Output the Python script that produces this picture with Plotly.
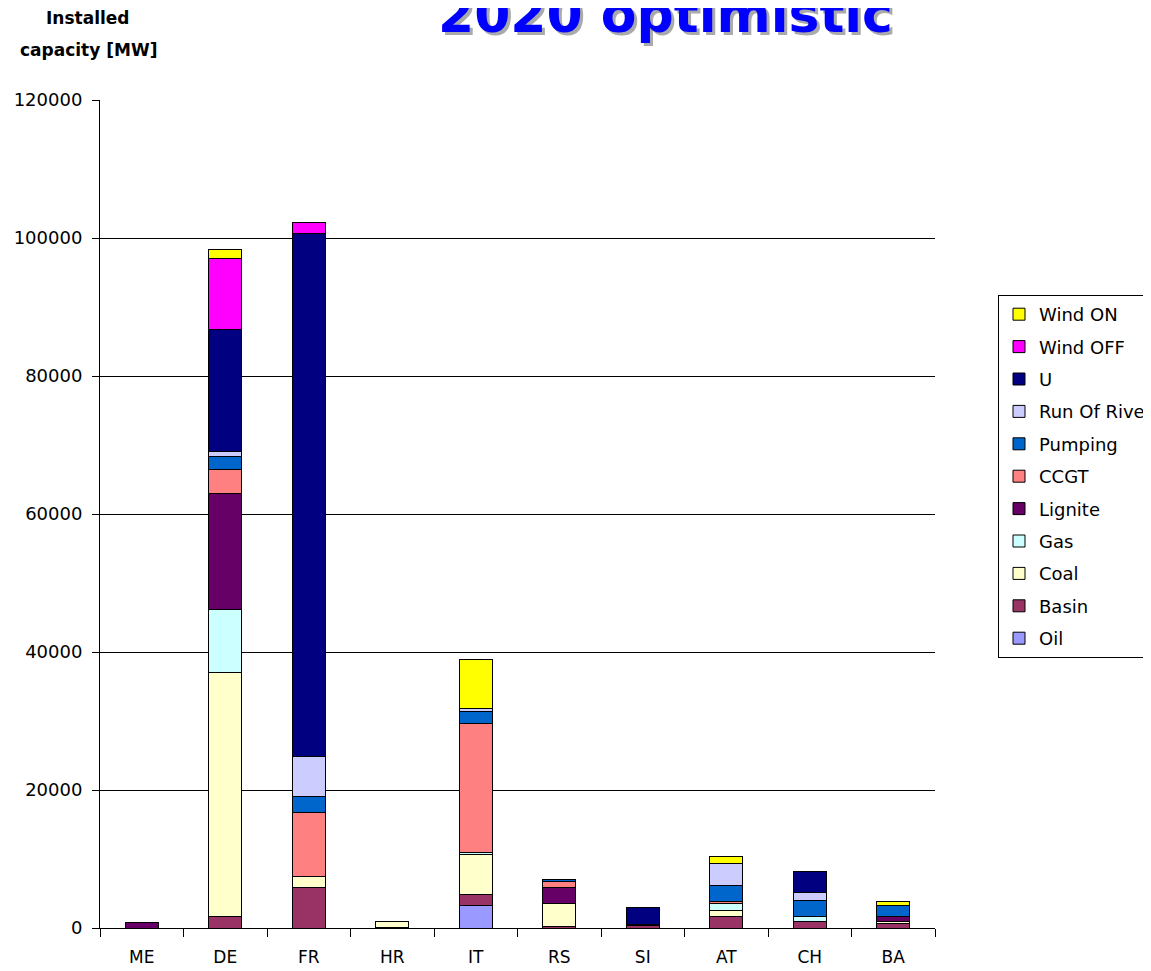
import plotly.graph_objects as go

categories = ["ME", "DE", "FR", "HR", "IT", "RS", "SI", "AT", "CH", "BA"]

oil      = [None, None, None, None, 3300, None, None, None, None, None]
basin    = [None, 1700, 5900, 100, 1500, 200, 300, 1700, 1000, 600]
coal     = [None, 35300, 1600, 800, 5900, 3400, None, 900, None, 300]
gas      = [None, 9100, None, None, 200, None, None, 900, 600, None]
lignite  = [800, 16800, None, None, None, 2200, None, None, None, 700]
ccgt     = [None, 3600, 9300, None, 18800, 1000, None, 400, None, None]
pumping  = [None, 1800, 2200, None, 1750, 300, None, 2300, 2400, 1600]
ror      = [None, 700, 5900, None, 400, None, 200, 3200, 1100, None]
uranium  = [None, 17700, 75800, None, None, None, 2400, None, 3100, None]
wind_off = [None, 10300, 1600, None, None, None, None, None, None, None]
wind_on  = [None, 1300, None, None, 7100, None, None, 900, None, 700]

series = [
    ("Oil", oil, "#9999FF"),
    ("Basin", basin, "#993366"),
    ("Coal", coal, "#FFFFCC"),
    ("Gas", gas, "#CCFFFF"),
    ("Lignite", lignite, "#660066"),
    ("CCGT", ccgt, "#FF8080"),
    ("Pumping", pumping, "#0066CC"),
    ("Run Of River", ror, "#CCCCFF"),
    ("U", uranium, "#000080"),
    ("Wind OFF", wind_off, "#FF00FF"),
    ("Wind ON", wind_on, "#FFFF00"),
]

FONT = "DejaVu Sans"
OFF = 8  # page body margin

L, T = 100 - OFF, 100 - OFF
PW, PH = 835, 828

fig = go.Figure()
for i, (name, vals, col) in enumerate(series):
    fig.add_trace(go.Bar(
        x=categories, y=vals, name=name, legendgroup=name,
        legendrank=100 - i,
        marker=dict(color=col, line=dict(color="black", width=1)),
    ))

fig.update_layout(
    width=1151, height=971,
    barmode="stack", bargap=0.6,
    plot_bgcolor="white", paper_bgcolor="white",
    margin=dict(l=L, r=1151 - L - PW, t=T, b=971 - T - PH, autoexpand=False),
    font=dict(family=FONT, size=16, color="black"),
    showlegend=True,
    legend=dict(
        x=(998 - 100) / PW, y=(928 - 295) / PH, xanchor="left", yanchor="top",
        traceorder="grouped", tracegroupgap=6,
        bordercolor="black", borderwidth=1, bgcolor="white",
        font=dict(family=FONT, size=18, color="black"),
    ),
    xaxis=dict(
        type="category", showline=True, linecolor="black", linewidth=1,
        ticks="outside", tickson="boundaries", ticklen=8, tickcolor="black",
        showgrid=False, tickfont=dict(family=FONT, size=17),
        ticklabelstandoff=14,
    ),
    yaxis=dict(
        range=[0, 120000], dtick=20000, showline=True, linecolor="black",
        linewidth=1, ticks="outside", ticklen=7, tickcolor="black",
        showgrid=True, gridcolor="black", gridwidth=1, zeroline=False,
        tickformat="d", tickfont=dict(family=FONT, size=18),
        ticklabelstandoff=6,
    ),
)

# Title with shadow
title_x = (665 - 100) / PW
for dx, dy, col in [(3, -3, "#AAAAAA"), (0, 0, "#0000FF")]:
    fig.add_annotation(
        text="<b>2020 optimistic</b>", xref="paper", yref="paper",
        x=title_x, y=(928 - 14) / PH, xanchor="center", yanchor="middle",
        xshift=dx, yshift=dy, showarrow=False,
        font=dict(family=FONT, size=52, color=col),
    )

# Y-axis label
fig.add_annotation(text="<b>Installed</b>", xref="paper", yref="paper",
                   x=(88 - 100) / PW, y=(928 - 18) / PH, xanchor="center",
                   yanchor="middle", showarrow=False,
                   font=dict(family=FONT, size=17, color="black"))
fig.add_annotation(text="<b>capacity [MW]</b>", xref="paper", yref="paper",
                   x=(88 - 100) / PW, y=(928 - 50) / PH, xanchor="center",
                   yanchor="middle", showarrow=False,
                   font=dict(family=FONT, size=17, color="black"))

fig.write_html("out.html")
